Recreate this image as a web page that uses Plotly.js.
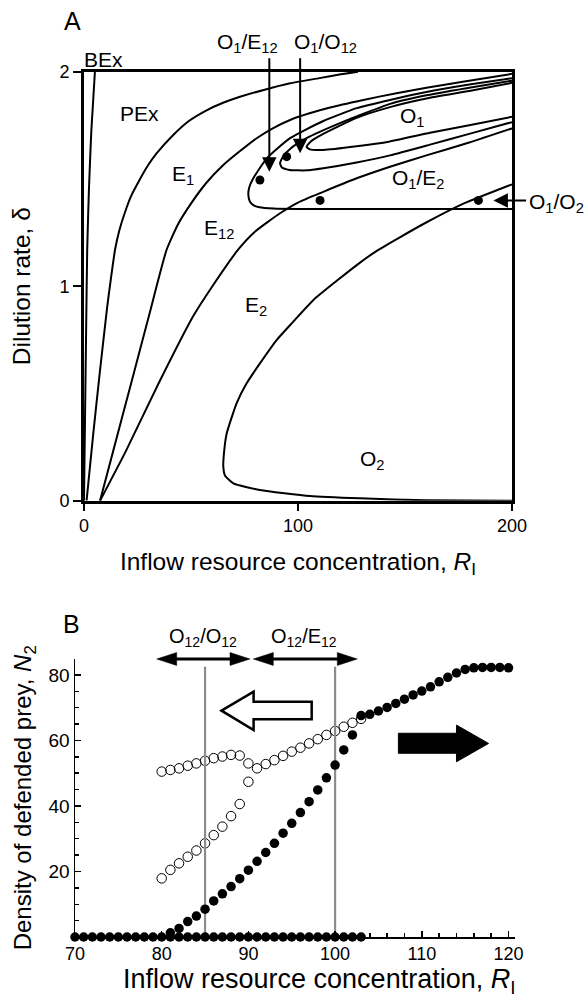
<!DOCTYPE html>
<html><head><meta charset="utf-8">
<script src="https://cdn.plot.ly/plotly-3.0.1.min.js"></script>
<style>html,body{margin:0;padding:0;background:#fff}#chart{width:585px;height:998px}</style>
</head><body><div id="chart"></div>
<script>
// ---------- Panel A: bifurcation boundaries (R_I, delta) ----------
const bexR = [0, 0.5, 1.0, 1.5, 2.3, 3.4, 5.1];
const bexD = [0, 0.4, 0.8, 1.17, 1.45, 1.72, 2.0];

const pexR = [1.2, 4.2, 7.4, 10.8, 12.5, 14.5, 16.5, 19, 22, 26.2, 30, 34, 41.7, 49, 57.3, 65, 72.9, 84, 96.3, 110, 120, 128];
const pexD = [0, 0.3, 0.6, 0.9, 1.03, 1.17, 1.26, 1.34, 1.42, 1.50, 1.565, 1.62, 1.705, 1.77, 1.82, 1.855, 1.883, 1.915, 1.946, 1.97, 1.988, 2.0];

const e1R = [7.5, 13.6, 22.1, 30.3, 38.6, 44, 49.5, 57, 65.1, 72.9, 80.7, 88, 96.3, 105, 115, 130, 146, 160, 177, 200];
const e1D = [0, 0.23, 0.55, 0.86, 1.17, 1.29, 1.378, 1.48, 1.565, 1.63, 1.69, 1.735, 1.775, 1.805, 1.833, 1.867, 1.90, 1.925, 1.953, 1.99];

const e12R = [7.5, 19.5, 35, 51, 60, 72, 80, 91.6, 100, 111.8, 127.4, 143, 160, 180, 200];
const e12D = [0, 0.23, 0.55, 0.86, 1.0, 1.17, 1.255, 1.34, 1.39, 1.44, 1.503, 1.557, 1.61, 1.67, 1.736];

const loopCR = [200, 180, 160, 143, 127.4, 111.8, 96.3, 85.4, 79.1, 77.2, 76.8, 77.5, 79.1, 82, 88.5, 100, 130, 200];
const loopCD = [1.97, 1.94, 1.905, 1.868, 1.83, 1.77, 1.69, 1.596, 1.503, 1.46, 1.425, 1.395, 1.378, 1.368, 1.362, 1.36, 1.36, 1.36];

const loopDR = [200, 180, 160, 143, 119.6, 104, 96.3, 93, 91.6, 92.5, 96, 104, 111.8, 127.4, 143, 161.7, 180, 200];
const loopDD = [1.958, 1.925, 1.89, 1.85, 1.76, 1.69, 1.64, 1.605, 1.573, 1.553, 1.542, 1.54, 1.55, 1.577, 1.61, 1.66, 1.71, 1.765];

const loopER = [200, 180, 160, 143, 127.4, 111.8, 106, 104, 105.5, 111.8, 127.4, 143, 161.7, 180, 200];
const loopED = [1.948, 1.91, 1.875, 1.835, 1.785, 1.71, 1.675, 1.65, 1.638, 1.635, 1.652, 1.675, 1.715, 1.75, 1.79];

const o2R = [200, 160, 129, 105.6, 82.2, 69.8, 66, 65.1, 65.6, 66.7, 71.3, 76, 82.2, 90, 97.8, 107.2, 118.1, 129, 136.8, 158.6, 177.3, 200];
const o2D = [0, 0.002, 0.011, 0.022, 0.05, 0.081, 0.115, 0.158, 0.24, 0.314, 0.454, 0.547, 0.64, 0.749, 0.835, 0.936, 1.025, 1.11, 1.165, 1.29, 1.385, 1.475];

const dotsAR = [82.2, 94.7, 110.3, 184.3];
const dotsAD = [1.495, 1.604, 1.40, 1.40];

// ---------- Panel B: density of defended prey N2 vs R_I ----------
const zeroSolidR = [70,71,72,73,74,75,76,77,78,79,80,81,82,83,84,85,86,87,88,89,90,91,92,93,94,95,96,97,98,99,100,101,102,103];
const zeroSolidN = [0,0,0,0,0,0,0,0,0,0,0,0,0,0,0,0,0,0,0,0,0,0,0,0,0,0,0,0,0,0,0,0,0,0];

const riseSolidR = [81,82,83,84,85,86,87,88,89,90,91,92,93,94,95,96,97,98,99,100,101,102];
const riseSolidN = [1.3,2.6,4.7,6.4,8.5,11.0,13.2,15.4,17.8,20.4,23.1,25.8,28.6,31.7,34.7,38.0,41.3,44.9,48.6,52.5,57.1,61.7];

const highSolidR = [103,104,105,106,107,108,109,110,111,112,113,114,115,116,117,118,119,120];
const highSolidN = [67.6,68.0,69.0,70.1,71.3,72.6,73.9,75.1,76.4,77.9,79.3,80.6,81.7,82.2,82.3,82.3,82.3,82.2];

const openUpperR = [80,81,82,83,84,85,86,87,88,89,90,91,92,93,94,95,96,97,98,99,100,101,102,103];
const openUpperN = [50.5,51.0,51.5,52.3,53.0,53.8,54.6,55.1,55.6,55.4,53.0,51.5,52.8,54.0,55.3,56.6,57.8,59.1,60.4,61.7,62.9,64.2,65.4,66.6];

const openLowerR = [80,81,82,83,84,85,86,87,88,89,90];
const openLowerN = [17.9,20.5,22.5,24.5,26.4,28.6,31.1,33.7,36.9,40.6,47.4];

const markerLinesR = [85, 100];
const markerLineTop = 82.5;

// ---------- traces ----------
const FONT = 'Liberation Sans, Arial, Helvetica, sans-serif';
const lineA = (x, y) => ({x, y, xaxis:'x', yaxis:'y', type:'scatter', mode:'lines',
  line:{color:'#000', width:2, shape:'spline', smoothing:0.5}, hoverinfo:'skip'});

const traces = [
  lineA(bexR, bexD), lineA(pexR, pexD), lineA(e1R, e1D), lineA(e12R, e12D),
  lineA(loopCR, loopCD), lineA(loopDR, loopDD), lineA(loopER, loopED), lineA(o2R, o2D),
  {x:dotsAR, y:dotsAD, xaxis:'x', yaxis:'y', type:'scatter', mode:'markers',
   marker:{color:'#000', size:9}, cliponaxis:false},
  // panel B
  {x:openUpperR, y:openUpperN, xaxis:'x2', yaxis:'y2', type:'scatter', mode:'markers',
   marker:{symbol:'circle-open', color:'#000', size:9.5, line:{width:1}}, cliponaxis:false},
  {x:openLowerR, y:openLowerN, xaxis:'x2', yaxis:'y2', type:'scatter', mode:'markers',
   marker:{symbol:'circle-open', color:'#000', size:9.5, line:{width:1}}, cliponaxis:false},
  {x:[markerLinesR[0], markerLinesR[0]], y:[0, markerLineTop], xaxis:'x2', yaxis:'y2', type:'scatter', mode:'lines',
   line:{color:'#8c8c8c', width:2.2}},
  {x:[markerLinesR[1], markerLinesR[1]], y:[0, markerLineTop], xaxis:'x2', yaxis:'y2', type:'scatter', mode:'lines',
   line:{color:'#8c8c8c', width:2.2}},
  {x:zeroSolidR, y:zeroSolidN, xaxis:'x2', yaxis:'y2', type:'scatter', mode:'markers',
   marker:{color:'#000', size:9.5}, cliponaxis:false},
  {x:riseSolidR, y:riseSolidN, xaxis:'x2', yaxis:'y2', type:'scatter', mode:'markers',
   marker:{color:'#000', size:9.5}, cliponaxis:false},
  {x:highSolidR, y:highSolidN, xaxis:'x2', yaxis:'y2', type:'scatter', mode:'markers',
   marker:{color:'#000', size:9.5}, cliponaxis:false}
];

// ---------- decorations ----------
const W = 585, H = 998;
// panel A data -> paper (for labels that sit outside the plotting area)
const axA = {x0:84, pxPerR:2.14, y0:500.7, pxPerD:214.5};
const paX = r => (axA.x0 + r * axA.pxPerR) / W;
const paY = d => 1 - (axA.y0 - d * axA.pxPerD) / H;

const P = (x, y) => (x / W).toFixed(5) + ',' + (1 - y / H).toFixed(5);
function doubleArrow(x1, x2, y) {
  const hl = 20, hh = 6.5;
  return [
    {type:'line', xref:'paper', yref:'paper', x0:(x1+hl-2)/W, x1:(x2-hl+2)/W, y0:1-y/H, y1:1-y/H, line:{color:'#000', width:3}},
    {type:'path', xref:'paper', yref:'paper', path:'M'+P(x1,y)+'L'+P(x1+hl,y-hh)+'L'+P(x1+hl,y+hh)+'Z', fillcolor:'#000', line:{color:'#000', width:0.5}},
    {type:'path', xref:'paper', yref:'paper', path:'M'+P(x2,y)+'L'+P(x2-hl,y-hh)+'L'+P(x2-hl,y+hh)+'Z', fillcolor:'#000', line:{color:'#000', width:0.5}}
  ];
}
const hollow = [[86.9,69.1],[90.6,74.9],[90.6,71.8],[97.3,71.8],[97.3,66.5],[90.6,66.5],[90.6,63.2]];
const solid = [[107.3,62.2],[114.0,62.2],[114.0,64.7],[117.7,59.1],[114.0,53.5],[114.0,56.1],[107.3,56.1]];
const toPath = pts => 'M' + pts.map(p => p[0] + ',' + p[1]).join('L') + 'Z';

const shapes = [
  ...doubleArrow(156.7, 250, 659),
  ...doubleArrow(253.3, 357.3, 659),
  {type:'path', xref:'x2', yref:'y2', path:toPath(hollow), fillcolor:'#fff', line:{color:'#000', width:2.5}},
  {type:'path', xref:'x2', yref:'y2', path:toPath(solid), fillcolor:'#000', line:{color:'#000', width:1}}
];

const lab = (text, x, y, size, xanchor) => ({text, x, y, xref:'x', yref:'y', showarrow:false,
  font:{size:size || 21, family:FONT, color:'#000'}, xanchor:xanchor || 'left', yanchor:'middle'});
const labP = (text, r, d, size, xanchor) => ({text, x:paX(r), y:paY(d), xref:'paper', yref:'paper', showarrow:false,
  font:{size:size || 21, family:FONT, color:'#000'}, xanchor:xanchor || 'left', yanchor:'middle'});
const arrowA = (x, y, ax, ay) => ({text:'', x, y, ax, ay, xref:'x', yref:'y', axref:'x', ayref:'y',
  showarrow:true, arrowhead:2, arrowsize:1.45, arrowwidth:2, arrowcolor:'#000'});

const annotations = [
  {text:'A', x:72.5/W, y:1-21/H, xref:'paper', yref:'paper', showarrow:false, font:{size:25, family:FONT}, xanchor:'center', yanchor:'middle'},
  {text:'B', x:71.5/W, y:1-624/H, xref:'paper', yref:'paper', showarrow:false, font:{size:25, family:FONT}, xanchor:'center', yanchor:'middle'},
  labP('BEx', 8.9, 2.058, 21, 'center'),
  lab('PEx', 25.9, 1.807, 21, 'center'),
  lab('E<sub>1</sub>', 40.2, 1.52),
  lab('E<sub>12</sub>', 55.0, 1.265),
  lab('E<sub>2</sub>', 74.5, 0.91),
  lab('O<sub>2</sub>', 128, 0.19),
  lab('O<sub>1</sub>', 146.7, 1.79),
  lab('O<sub>1</sub>/E<sub>2</sub>', 143, 1.50),
  labP('O<sub>1</sub>/E<sub>12</sub>', 61.2, 2.135),
  labP('O<sub>1</sub>/O<sub>12</sub>', 97.0, 2.135),
  labP('O<sub>1</sub>/O<sub>2</sub>', 207.2, 1.39),
  arrowA(86.6, 1.534, 86.6, 2.07),
  arrowA(101, 1.62, 101, 2.07),
  arrowA(191.3, 1.40, 207.3, 1.40),
  {text:'O<sub>12</sub>/O<sub>12</sub>', x:202.5/W, y:1-637/H, xref:'paper', yref:'paper', showarrow:false, font:{size:20, family:FONT}, xanchor:'center', yanchor:'middle'},
  {text:'O<sub>12</sub>/E<sub>12</sub>', x:303.5/W, y:1-637/H, xref:'paper', yref:'paper', showarrow:false, font:{size:20, family:FONT}, xanchor:'center', yanchor:'middle'},
  {text:'Inflow resource concentration, <i>R</i><sub>I</sub>', x:319/W, y:1-981/H, xref:'paper', yref:'paper', showarrow:false,
   font:{size:27, family:FONT}, xanchor:'center', yanchor:'middle', height:26, valign:'middle', borderpad:0}
];

const layout = {
  width:W, height:H, margin:{l:0, r:0, t:0, b:0}, paper_bgcolor:'#fff', plot_bgcolor:'rgba(0,0,0,0)',
  showlegend:false, font:{family:FONT, color:'#000', size:18},
  xaxis:{domain:[84/W, 512/W], range:[0, 200], anchor:'y', showline:true, mirror:true, linewidth:3, linecolor:'#000',
    showgrid:false, zeroline:false, tickmode:'array', tickvals:[0,100,200], ticks:'outside', ticklen:7, tickwidth:2,
    tickcolor:'#000', tickfont:{size:18},
    title:{text:'Inflow resource concentration, <i>R</i><sub>I</sub>', font:{size:24.5}, standoff:18}},
  yaxis:{domain:[1-500.7/H, 1-71.7/H], range:[0, 2], anchor:'x', showline:true, mirror:true, linewidth:3, linecolor:'#000',
    showgrid:false, zeroline:false, tickmode:'array', tickvals:[0,1,2], ticks:'outside', ticklen:8, tickwidth:2,
    tickcolor:'#000', tickfont:{size:18},
    title:{text:'Dilution rate, δ', font:{size:24.5}, standoff:22}},
  xaxis2:{domain:[75/W, 515/W], range:[70, 120.75], anchor:'y2', showline:true, linewidth:1.5, linecolor:'#000',
    showgrid:false, zeroline:false, tickmode:'linear', tick0:70, dtick:10, ticks:'inside', ticklen:6, tickwidth:1.5,
    tickcolor:'#000', tickfont:{size:18},
    minor:{tickmode:'linear', tick0:70, dtick:2, ticks:'inside', ticklen:4, tickwidth:1.5, tickcolor:'#000', showgrid:false}},
  yaxis2:{domain:[1-937/H, 1-658.6/H], range:[0, 85], anchor:'x2', showline:true, linewidth:1.5, linecolor:'#000',
    showgrid:false, zeroline:false, tickmode:'array', tickvals:[20,40,60,80], ticks:'inside', ticklen:6, tickwidth:1.5,
    tickcolor:'#000', tickfont:{size:19},
    minor:{tickmode:'linear', tick0:0, dtick:5, ticks:'inside', ticklen:4, tickwidth:1.5, tickcolor:'#000', showgrid:false},
    title:{text:'Density of defended prey, <i>N</i><sub>2</sub>', font:{size:24}, standoff:10}},
  shapes, annotations
};

Plotly.newPlot('chart', traces, layout, {staticPlot:true, displayModeBar:false});
</script>
</body></html>
